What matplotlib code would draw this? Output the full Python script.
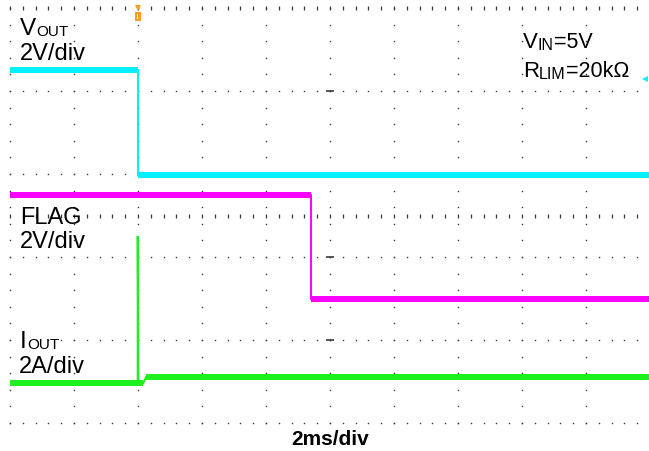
import matplotlib
matplotlib.use('Agg')
import matplotlib.pyplot as plt
import numpy as np

plt.rcParams['font.family'] = ['Liberation Sans', 'DejaVu Sans']

W, H = 649, 452
DPI = 100

# ---- data (time in ms, 2 ms/div; amplitudes in screen divisions) ----
t_range = [-4.0, 16.0]
div_range = [0.0, 5.0]
vout_t = [-4.0, 0.0, 0.0, 16.0]
vout_div = [4.25, 4.25, 2.99, 2.99]
flag_t = [-4.0, 5.41, 5.41, 16.0]
flag_div = [2.75, 2.75, 1.49, 1.49]
iout_t = [-4.0, -0.01, -0.01, 0.01, 0.16, 0.25, 16.0]
iout_div = [0.476, 0.476, 2.25, 0.476, 0.476, 0.554, 0.554]

CYAN = '#00F0FF'
MAGENTA = '#FF00FF'
GREEN = '#1EF01E'
GRID = '#3a3a3a'
ORANGE = '#F5A020'

fig = plt.figure(figsize=(W / DPI, H / DPI), dpi=DPI)
fig.patch.set_facecolor('white')

# plot area: x pixels 10..650, y pixels 9..424
ax = fig.add_axes([10 / W, (H - 424) / H, 640 / W, 415 / H])
ax.set_xlim(*t_range)
ax.set_ylim(*div_range)
ax.axis('off')

major_x = np.arange(-4, 16.01, 2.0)
minor_x = np.arange(-4, 16.01, 0.4)
major_y = np.arange(0, 5.01, 1.0)
minor_y = np.arange(0, 5.01, 0.2)

# vertical dotted grid lines
for xv in major_x:
    ax.plot(np.full_like(minor_y, xv), minor_y, ls='none', marker='s',
            ms=1.0, mew=0, color=GRID, clip_on=False)
# horizontal dotted grid rows (bottom..second from top)
for yv in major_y[:-1]:
    ax.plot(minor_x, np.full_like(minor_x, yv), ls='none', marker='s',
            ms=1.0, mew=0, color=GRID, clip_on=False)
# top row: small ticks
ax.plot(minor_x, np.full_like(minor_x, 5.0), ls='none', marker='|',
        ms=2.2, mew=0.9, color=GRID, clip_on=False)
# centre horizontal axis with ticks
ax.plot(minor_x, np.full_like(minor_x, 2.5), ls='none', marker='|',
        ms=3.0, mew=0.9, color=GRID, clip_on=False)
# centre vertical axis: dashes at major rows
ax.plot(np.full_like(major_y[1:-1], 6.0), major_y[1:-1], ls='none',
        marker='_', ms=6.0, mew=1.2, color=GRID, clip_on=False)


def draw_trace(t, y, color):
    ax.plot(t, y, color=color, lw=1.4, solid_joinstyle='miter', zorder=3)
    for i in range(len(t) - 1):
        if y[i] == y[i + 1] and t[i + 1] > t[i]:
            ax.plot([t[i], t[i + 1]], [y[i], y[i + 1]], color=color,
                    lw=4.3, solid_capstyle='butt', zorder=3)


draw_trace(vout_t, vout_div, CYAN)
draw_trace(flag_t, flag_div, MAGENTA)
draw_trace(iout_t, iout_div, GREEN)

# ---- text in pixel coordinates ----
renderer = fig.canvas.get_renderer()


def px_text(x, y, parts, weight='normal'):
    """parts: list of (string, fontsize, baseline_shift_px)"""
    cx = x
    for s, size, dy in parts:
        t = fig.text(cx / W, 1 - (y + dy) / H, s, fontsize=size,
                     va='baseline', ha='left', weight=weight)
        bb = t.get_window_extent(renderer=renderer)
        cx += bb.width


px_text(20, 35, [('V', 17.5, 0), ('OUT', 11, 1)])
px_text(20, 60, [('2V/div', 17, 0)])
px_text(20, 224, [('FLAG', 17, 0)])
px_text(20, 248, [('2V/div', 17, 0)])
px_text(20, 348, [('I', 17.5, 0), ('OUT', 11, 1)])
px_text(19, 373, [('2A/div', 17, 0)])
px_text(523, 48, [('V', 16, 0), ('IN', 11.5, 2), ('=5V', 15.5, 0)])
px_text(523, 77, [('R', 16, 0), ('LIM', 11.5, 2), ('=20k\u03a9', 15.5, 0)])
fig.text(330 / W, 1 - 445 / H, '2ms/div', fontsize=15, weight='bold',
         ha='center', va='baseline')

# trigger marker (orange) and channel reference marker (cyan)
ax.plot([0.0], [5.0], marker='v', ms=5, color=ORANGE, mew=0,
        clip_on=False, transform=ax.transData)
fig.patches.append(plt.Rectangle((134.5 / W, 1 - 22 / H), 6 / W, 9 / H,
                                 transform=fig.transFigure,
                                 color=ORANGE, lw=0))
fig.patches.append(plt.Rectangle((136.8 / W, 1 - 20 / H), 1.4 / W, 5 / H,
                                 transform=fig.transFigure,
                                 color='white', lw=0))
fig.lines.append(plt.Line2D([645 / W], [1 - 80 / H], marker='<', ms=4.5,
                            color=CYAN, mew=0, transform=fig.transFigure))

fig.savefig('out.png', dpi=DPI, facecolor='white')
